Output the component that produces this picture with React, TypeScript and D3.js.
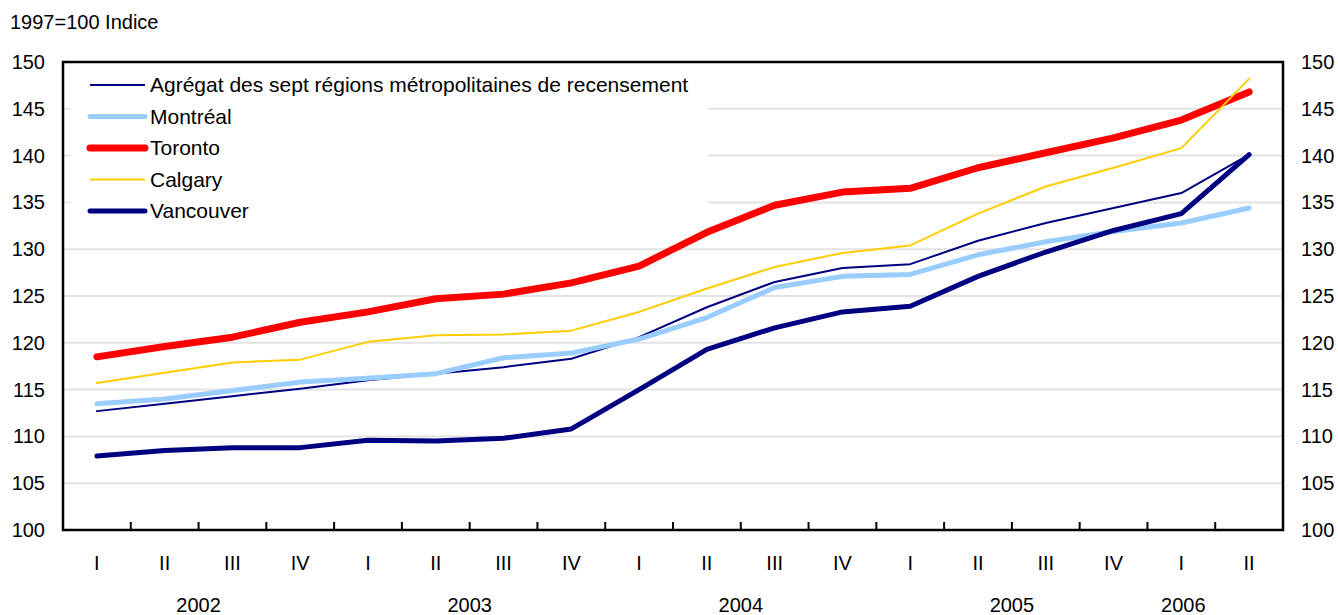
import { useRef, useEffect } from 'react';
import * as d3 from 'd3';

// Quarters 2002-I .. 2006-II
const periods = [
  '2002-I', '2002-II', '2002-III', '2002-IV',
  '2003-I', '2003-II', '2003-III', '2003-IV',
  '2004-I', '2004-II', '2004-III', '2004-IV',
  '2005-I', '2005-II', '2005-III', '2005-IV',
  '2006-I', '2006-II',
];
const years = ['2002', '2003', '2004', '2005', '2006'];
const yTicks = [100, 105, 110, 115, 120, 125, 130, 135, 140, 145, 150];

const agregat = [112.7, 113.5, 114.3, 115.1, 116.0, 116.7, 117.4, 118.3, 120.6, 123.8, 126.5, 128.0, 128.4, 130.9, 132.8, 134.4, 136.0, 140.1];
const montreal = [113.5, 114.0, 114.9, 115.8, 116.2, 116.7, 118.4, 118.9, 120.4, 122.7, 125.9, 127.1, 127.3, 129.4, 130.8, 131.9, 132.8, 134.4];
const toronto = [118.5, 119.6, 120.6, 122.2, 123.3, 124.7, 125.2, 126.4, 128.2, 131.8, 134.7, 136.1, 136.5, 138.7, 140.3, 141.9, 143.8, 146.8];
const calgary = [115.7, 116.8, 117.9, 118.2, 120.1, 120.8, 120.9, 121.3, 123.3, 125.8, 128.1, 129.6, 130.4, 133.8, 136.7, 138.7, 140.8, 148.2];
const vancouver = [107.9, 108.5, 108.8, 108.8, 109.6, 109.5, 109.8, 110.8, 115.0, 119.3, 121.6, 123.3, 123.9, 127.1, 129.7, 132.0, 133.8, 140.1];

const series = [
  { name: 'Agrégat des sept régions métropolitaines de recensement', values: agregat, color: '#000080', width: 2 },
  { name: 'Montréal', values: montreal, color: '#99ccff', width: 5 },
  { name: 'Toronto', values: toronto, color: '#ff0000', width: 7 },
  { name: 'Calgary', values: calgary, color: '#ffcc00', width: 2 },
  { name: 'Vancouver', values: vancouver, color: '#000080', width: 5 },
];

const width = 1338;
const height = 615;
const margin = { top: 62, right: 55, bottom: 85, left: 63 };
const font = '"Liberation Sans", Arial, sans-serif';

const App = () => {
  const svgRef = useRef(null);

  useEffect(() => {
    const svg = d3.select(svgRef.current);
    svg.selectAll('*').remove();

    const x = d3
      .scaleBand()
      .domain(periods)
      .range([margin.left, width - margin.right]);
    const y = d3
      .scaleLinear()
      .domain([100, 150])
      .range([height - margin.bottom, margin.top]);

    const cx = (p: string) => (x(p) as number) + x.bandwidth() / 2;

    // gridlines
    svg
      .append('g')
      .selectAll('line')
      .data(yTicks.slice(1, -1))
      .join('line')
      .attr('x1', margin.left)
      .attr('x2', width - margin.right)
      .attr('y1', (d) => y(d))
      .attr('y2', (d) => y(d))
      .attr('stroke', '#e3e3e3')
      .attr('stroke-width', 2);

    // legend background hides the gridlines behind it
    svg
      .append('rect')
      .attr('x', margin.left + 8)
      .attr('y', margin.top + 2)
      .attr('width', 637)
      .attr('height', 166)
      .attr('fill', 'white');

    // series lines
    series.forEach((s) => {
      const line = d3
        .line<number>()
        .x((_, i) => cx(periods[i]))
        .y((d) => y(d));
      svg
        .append('path')
        .datum(s.values)
        .attr('fill', 'none')
        .attr('stroke', s.color)
        .attr('stroke-width', s.width)
        .attr('stroke-linejoin', 'round')
        .attr('stroke-linecap', 'round')
        .attr('d', line);
    });

    // plot border
    svg
      .append('rect')
      .attr('x', margin.left)
      .attr('y', margin.top)
      .attr('width', width - margin.left - margin.right)
      .attr('height', height - margin.top - margin.bottom)
      .attr('fill', 'none')
      .attr('stroke', 'black')
      .attr('stroke-width', 2.5);

    // x ticks between quarters, pointing inward
    svg
      .append('g')
      .selectAll('line')
      .data(periods.slice(1))
      .join('line')
      .attr('x1', (d) => x(d) as number)
      .attr('x2', (d) => x(d) as number)
      .attr('y1', y(100))
      .attr('y2', y(100) - 8)
      .attr('stroke', 'black')
      .attr('stroke-width', 2);

    // y tick labels, both sides
    const labels = svg.append('g').attr('font-family', font).attr('font-size', 20).attr('fill', 'black');
    labels
      .selectAll('text.yl')
      .data(yTicks)
      .join('text')
      .attr('class', 'yl')
      .attr('x', 45)
      .attr('y', (d) => y(d))
      .attr('dy', '0.35em')
      .attr('text-anchor', 'end')
      .text((d) => d);
    labels
      .selectAll('text.yr')
      .data(yTicks)
      .join('text')
      .attr('class', 'yr')
      .attr('x', width - margin.right + 18)
      .attr('y', (d) => y(d))
      .attr('dy', '0.35em')
      .attr('text-anchor', 'start')
      .text((d) => d);

    // quarter labels
    labels
      .selectAll('text.q')
      .data(periods)
      .join('text')
      .attr('class', 'q')
      .attr('x', (d) => cx(d))
      .attr('y', 570)
      .attr('text-anchor', 'middle')
      .text((d) => d.split('-')[1]);

    // year labels
    labels
      .selectAll('text.yr2')
      .data(years)
      .join('text')
      .attr('class', 'yr2')
      .attr('x', (yr) => {
        const qs = periods.filter((p) => p.startsWith(yr));
        if (qs.length < 4) return cx(qs[0]) + 2;
        return (cx(qs[0]) + cx(qs[qs.length - 1])) / 2;
      })
      .attr('y', 612)
      .attr('text-anchor', 'middle')
      .text((d) => d);

    // title
    labels.append('text').attr('x', 10).attr('y', 29).text('1997=100 Indice');

    // legend
    const legend = svg.append('g').attr('font-family', font).attr('font-size', 21);
    series.forEach((s, i) => {
      const ly = 85 + i * 31.5;
      legend
        .append('line')
        .attr('x1', 90)
        .attr('x2', 145)
        .attr('y1', ly)
        .attr('y2', ly)
        .attr('stroke', s.color)
        .attr('stroke-width', s.width)
        .attr('stroke-linecap', s.width > 3 ? 'round' : 'butt');
      legend
        .append('text')
        .attr('x', 150)
        .attr('y', ly)
        .attr('dy', '0.35em')
        .attr('fill', 'black')
        .text(s.name);
    });
  }, []);

  return (
    <svg
      ref={svgRef}
      width={width}
      height={height}
      style={{ position: 'absolute', left: 0, top: 0, background: 'white' }}
    />
  );
};

export default App;
